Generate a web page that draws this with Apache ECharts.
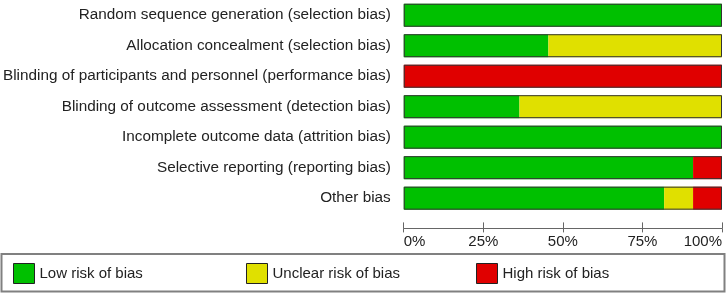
<!DOCTYPE html>
<html>
<head>
<meta charset="utf-8">
<script src="https://cdn.jsdelivr.net/npm/echarts@6/dist/echarts.min.js"></script>
<style>
  html, body { margin: 0; padding: 0; background: #fff; }
  #chart { width: 726px; height: 295px; }
</style>
</head>
<body>
<div id="chart"></div>
<script>
// risk of bias domains, top to bottom
var domains = [
  'Random sequence generation (selection bias)',
  'Allocation concealment (selection bias)',
  'Blinding of participants and personnel (performance bias)',
  'Blinding of outcome assessment (detection bias)',
  'Incomplete outcome data (attrition bias)',
  'Selective reporting (reporting bias)',
  'Other bias'
];
// percent of studies
var lowRisk     = [100, 45.45, 0, 36.36, 100, 90.91, 81.82];
var unclearRisk = [0, 54.55, 0, 63.64, 0, 0, 9.09];
var highRisk    = [0, 0, 100, 0, 0, 9.09, 9.09];
var outline     = [100, 100, 100, 100, 100, 100, 100];
var tickValues  = [0, 25, 50, 75, 100];

var font = 'Liberation Sans';
var myChart = echarts.init(document.getElementById('chart'));

function legendAt(name, left) {
  return {
    data: [name],
    left: left,
    top: 263,
    padding: 0,
    itemWidth: 21,
    itemHeight: 20,
    icon: 'rect',
    selectedMode: false,
    itemStyle: { borderColor: '#222', borderWidth: 1 },
    textStyle: { fontFamily: font, fontSize: 15, color: '#222' }
  };
}

var option = {
  animation: false,
  grid: { left: 403, right: 4, top: -2, bottom: 81.6 },
  legend: [
    legendAt('Low risk of bias', 13),
    legendAt('Unclear risk of bias', 246),
    legendAt('High risk of bias', 476)
  ],
  graphic: [{
    type: 'rect',
    shape: { x: 1.5, y: 254, width: 723, height: 37.5 },
    style: { fill: 'none', stroke: '#808080', lineWidth: 2 }
  }],
  xAxis: [{
    type: 'value',
    min: 0, max: 100, interval: 25,
    offset: 15,
    splitLine: { show: false },
    axisLine: { show: true, lineStyle: { color: '#666', width: 1 } },
    axisTick: { show: true, length: 4, lineStyle: { color: '#666' } },
    axisLabel: {
      margin: 6,
      fontFamily: font, fontSize: 15, color: '#222',
      alignMinLabel: 'left', alignMaxLabel: 'right',
      formatter: function (v) { return tickValues.indexOf(v) >= 0 ? v + '%' : ''; }
    }
  }, {
    // upper half of the tick marks
    type: 'value',
    position: 'bottom',
    min: 0, max: 100, interval: 25,
    offset: 15,
    splitLine: { show: false },
    axisLine: { show: false },
    axisTick: { show: true, inside: true, length: 6, lineStyle: { color: '#666' } },
    axisLabel: { show: false }
  }],
  yAxis: {
    type: 'category',
    inverse: true,
    data: domains,
    axisLine: { show: false },
    axisTick: { show: false },
    axisLabel: { margin: 13, fontFamily: font, fontSize: 15.3, color: '#222' }
  },
  series: [
    { name: 'Low risk of bias', type: 'bar', stack: 'rob', barWidth: 23,
      itemStyle: { color: '#00c000' }, data: lowRisk },
    { name: 'Unclear risk of bias', type: 'bar', stack: 'rob', barWidth: 23,
      itemStyle: { color: '#e0e000' }, data: unclearRisk },
    { name: 'High risk of bias', type: 'bar', stack: 'rob', barWidth: 23,
      itemStyle: { color: '#e00000' }, data: highRisk },
    { name: 'outline', type: 'bar', barWidth: 23, barGap: '-100%', silent: true,
      itemStyle: { color: 'rgba(0,0,0,0)', borderColor: '#333', borderWidth: 1 },
      data: outline }
  ]
};
myChart.setOption(option);
</script>
</body>
</html>
